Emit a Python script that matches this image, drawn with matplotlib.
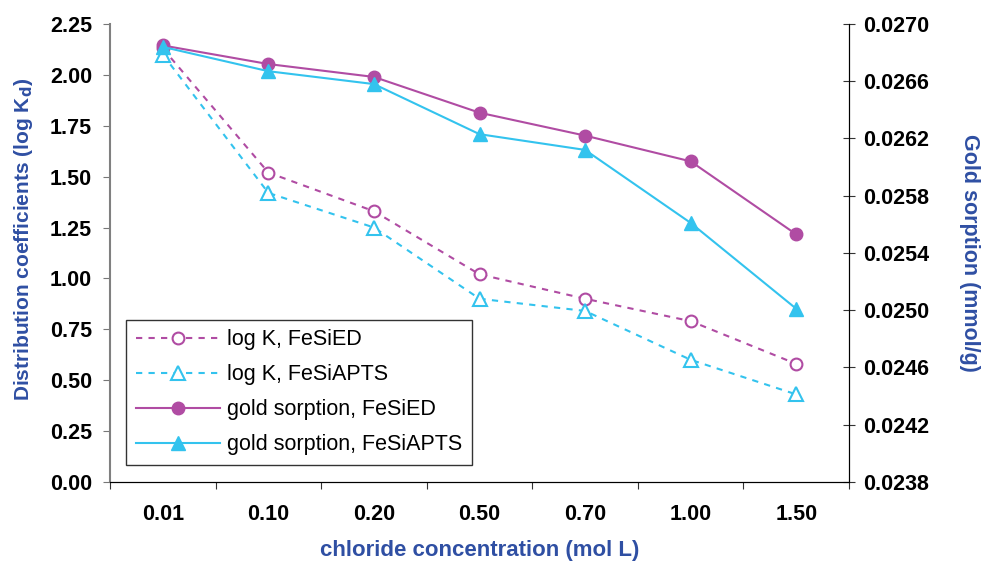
import matplotlib
matplotlib.use('Agg')
import matplotlib.pyplot as plt
import numpy as np

plt.rcParams['font.family'] = ['Liberation Sans', 'DejaVu Sans']

# chloride concentrations (mol/L), plotted as categories
conc = ['0.01', '0.10', '0.20', '0.50', '0.70', '1.00', '1.50']

# log Kd values (left axis)
logk_fesied = [2.13, 1.52, 1.33, 1.02, 0.90, 0.79, 0.58]
logk_fesiapts = [2.10, 1.42, 1.25, 0.90, 0.84, 0.60, 0.43]

# gold sorption, mmol/g (right axis)
gold_fesied = [0.02685, 0.02672, 0.02663, 0.02638, 0.02622, 0.02604, 0.02553]
gold_fesiapts = [0.02684, 0.02667, 0.02658, 0.02623, 0.02612, 0.02561, 0.02501]

magenta = '#B04CA3'
cyan = '#33C3EE'
blue = '#2F4FA3'

x = np.arange(len(conc))

fig = plt.figure(figsize=(9.82, 5.63), dpi=100)
ax = fig.add_axes([0.112, 0.144, 0.7526, 0.8134])
ax2 = ax.twinx()

l1, = ax.plot(x, logk_fesied, linestyle=(0, (3, 3)), color=magenta, lw=1.5,
              marker='o', mfc='white', mec=magenta, mew=1.5, ms=8.5,
              label='log K, FeSiED')
l2, = ax.plot(x, logk_fesiapts, linestyle=(0, (3, 3)), color=cyan, lw=1.5,
              marker='^', mfc='white', mec=cyan, mew=1.5, ms=10,
              label='log K, FeSiAPTS')
l3, = ax2.plot(x, gold_fesied, '-', color=magenta, lw=1.5,
               marker='o', ms=9, label='gold sorption, FeSiED')
l4, = ax2.plot(x, gold_fesiapts, '-', color=cyan, lw=1.5,
               marker='^', ms=10, label='gold sorption, FeSiAPTS')

ax.set_xlim(-0.5, len(conc) - 0.5)
ax.set_ylim(0, 2.25)
lt = np.arange(0, 2.26, 0.25)
ax.set_yticks(lt)
ax.set_yticklabels(['%.2f' % v for v in lt], fontsize=15.5, fontweight='bold')
ax.set_xticks(np.arange(-0.5, len(conc), 1))
ax.set_xticklabels([])
ax.set_xticks(x, minor=True)
ax.set_xticklabels(conc, minor=True, fontsize=15.5, fontweight='bold')
ax.tick_params(axis='x', which='minor', length=0, pad=16)
ax.tick_params(axis='x', which='major', direction='out', length=5, color='#333333')
ax.tick_params(axis='y', direction='out', length=5, color='#777777', pad=8)

ax2.set_ylim(0.0238, 0.0270)
rt = np.arange(0.0238, 0.02701, 0.0004)
ax2.set_yticks(rt)
ax2.set_yticklabels(['%.4f' % v for v in rt], fontsize=15.5, fontweight='bold')
ax2.tick_params(axis='y', direction='inout', length=9, color='#333333', pad=6)

for a in (ax, ax2):
    a.spines['top'].set_visible(False)
ax.spines['left'].set_color('#808080')
ax.spines['left'].set_linewidth(1.5)
ax2.spines['left'].set_visible(False)
ax2.spines['right'].set_color('black')

ax.set_xlabel('chloride concentration (mol L)', color=blue, fontsize=16,
              fontweight='bold')
ax.xaxis.set_label_coords(0.5, -0.127)
ax.set_ylabel('Distribution coefficients (log K$_\\mathbf{d}$)', color=blue,
              fontsize=15, fontweight='bold')
ax.yaxis.set_label_coords(-0.101, 0.53)
ax2.set_ylabel('Gold sorption (mmol/g)', color=blue, fontsize=15.5,
               fontweight='bold', rotation=-90, va='bottom')
ax2.yaxis.set_label_coords(1.149, 0.5)

leg = ax2.legend(handles=[l1, l2, l3, l4], loc='lower left',
                 bbox_to_anchor=(0.022, 0.037), borderaxespad=0,
                 fontsize=15.5, frameon=True, fancybox=False,
                 edgecolor='black', handlelength=3.9, handletextpad=0.35,
                 labelspacing=0.65, borderpad=0.45)
leg.get_frame().set_linewidth(1.0)

fig.savefig('out.png', dpi=100)
